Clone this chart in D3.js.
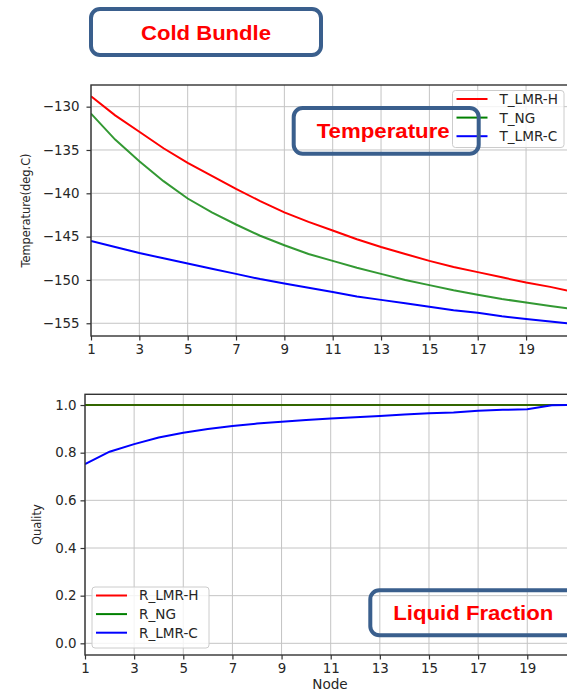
<!DOCTYPE html>
<html>
<head>
<meta charset="utf-8">
<script src="https://d3js.org/d3.v7.min.js"></script>
<style>
  body { margin: 0; background: #fff; }
  .tick text { font-family: "DejaVu Sans", sans-serif; font-size: 13.4px; fill: #262626; }
  .chartaxislabel { font-family: "DejaVu Sans", sans-serif; fill: #262626; }
  .keylabel { font-family: "DejaVu Sans", sans-serif; font-size: 13.6px; fill: #262626; }
  .boxlabel { font-family: "Liberation Sans", Arial, sans-serif; font-weight: bold; fill: #ff0000; }
</style>
</head>
<body>
<div id="chart"></div>
<script>
// node numbers along the bundle
const nodes = d3.range(1, 22);
const xTicks = [1, 3, 5, 7, 9, 11, 13, 15, 17, 19];

// temperature, deg.C
const T_LMR_H = [-128.8, -131.0, -132.9, -134.8, -136.5, -138.0, -139.5, -140.9, -142.2, -143.3, -144.3,
                 -145.3, -146.2, -147.0, -147.8, -148.5, -149.1, -149.7, -150.3, -150.8, -151.4];
const T_NG    = [-130.8, -133.8, -136.3, -138.6, -140.6, -142.2, -143.6, -144.9, -146.0, -147.0, -147.8,
                 -148.6, -149.3, -150.0, -150.6, -151.2, -151.7, -152.2, -152.6, -153.0, -153.4];
const T_LMR_C = [-145.5, -146.2, -146.9, -147.5, -148.1, -148.7, -149.3, -149.9, -150.4, -150.9, -151.4,
                 -151.9, -152.3, -152.7, -153.1, -153.5, -153.8, -154.2, -154.5, -154.8, -155.1];
const tempTicks = [-155, -150, -145, -140, -135, -130];

// quality (liquid fraction)
const R_LMR_H = [1, 1, 1, 1, 1, 1, 1, 1, 1, 1, 1, 1, 1, 1, 1, 1, 1, 1, 1, 1, 1];
const R_NG    = [1, 1, 1, 1, 1, 1, 1, 1, 1, 1, 1, 1, 1, 1, 1, 1, 1, 1, 1, 1, 1];
const R_LMR_C = [0.752, 0.804, 0.836, 0.864, 0.884, 0.899, 0.912, 0.922, 0.930, 0.937, 0.943,
                 0.949, 0.954, 0.960, 0.965, 0.969, 0.976, 0.980, 0.982, 0.999, 1.0];
const qualTicks = [0, 0.2, 0.4, 0.6, 0.8, 1.0];

const tempNames = ['T_LMR-H', 'T_NG', 'T_LMR-C'];
const qualNames = ['R_LMR-H', 'R_NG', 'R_LMR-C'];
colors = ['#ff0000', '#008000', '#0000ff'];

var svg = d3.select('#chart')
    .append('svg')
    .attr('width', 567)
    .attr('height', 694);

function lineChart(svg, id, series, names, yTicks, yFmt, box, yDomain, yTitle, yTitleX, xTitle, legendBox, tickPad){

    var xScale = d3.scaleLinear()
        .domain([1, 21])
        .range([box.left, box.right]);

    var yScale = d3.scaleLinear()
        .domain(yDomain)
        .range([box.bottom, box.top]);

    let g = svg.append('g');

    // grid
    g.selectAll('vgrid')
        .data(xTicks)
        .enter()
        .append('line')
        .attr('x1', d => xScale(d)).attr('x2', d => xScale(d))
        .attr('y1', box.top).attr('y2', box.bottom)
        .attr('stroke', '#c4c4c4')
        .attr('stroke-width', 1);

    g.selectAll('hgrid')
        .data(yTicks)
        .enter()
        .append('line')
        .attr('x1', box.left).attr('x2', box.right)
        .attr('y1', d => yScale(d)).attr('y2', d => yScale(d))
        .attr('stroke', '#c4c4c4')
        .attr('stroke-width', 1);

    g.append('clipPath')
        .attr('id', id)
        .append('rect')
        .attr('x', box.left).attr('y', box.top)
        .attr('width', box.right - box.left)
        .attr('height', box.bottom - box.top);

    var line = d3.line()
        .x((d, i) => xScale(nodes[i]))
        .y(d => yScale(d));

    g.selectAll('series')
        .data(series)
        .enter()
        .append('path')
        .attr('clip-path', 'url(#' + id + ')')
        .attr('d', d => line(d))
        .attr('fill', 'none')
        .attr('stroke', (d, i) => colors[i])
        .attr('stroke-opacity', (d, i) => i == 1 ? 0.8 : 1)
        .attr('stroke-width', 2);

    var xAxis = d3.axisBottom().scale(xScale).tickValues(xTicks).tickSize(4.5).tickPadding(3.5);
    var yAxis = d3.axisLeft().scale(yScale).tickValues(yTicks).tickFormat(d3.format(yFmt)).tickSize(4.5).tickPadding(tickPad);

    g.append('g')
        .attr('class', 'x axis')
        .attr('transform', 'translate(0,' + box.bottom + ')')
        .call(xAxis)
        .call(a => a.select('.domain').remove());

    g.append('g')
        .attr('class', 'y axis')
        .attr('transform', 'translate(' + box.left + ',0)')
        .call(yAxis)
        .call(a => a.select('.domain').remove());

    g.selectAll('.tick line').attr('stroke', '#333').attr('stroke-width', 1.2);

    // spines
    g.append('rect')
        .attr('x', box.left).attr('y', box.top)
        .attr('width', box.right - box.left)
        .attr('height', box.bottom - box.top)
        .attr('fill', 'none')
        .attr('stroke', '#333')
        .attr('stroke-width', 1.4);

    g.append('text')
        .attr('class', 'chartaxislabel')
        .attr('transform', 'translate(' + yTitleX + ',' + ((box.top + box.bottom) / 2) + ') rotate(-90)')
        .style('text-anchor', 'middle')
        .attr('dy', '0.35em')
        .style('font-size', '11.4px')
        .text(yTitle);

    if(xTitle){
        g.append('text')
            .attr('class', 'chartaxislabel')
            .attr('x', 330)
            .attr('y', 689)
            .style('text-anchor', 'middle')
            .style('font-size', '13.6px')
            .text(xTitle);
    }

    // legend
    let lg = g.append('g');
    lg.append('rect')
        .attr('x', legendBox.x).attr('y', legendBox.y)
        .attr('width', legendBox.w).attr('height', legendBox.h)
        .attr('rx', 3)
        .attr('fill', '#fff').attr('fill-opacity', 0.8)
        .attr('stroke', '#cccccc');

    let rows = lg.selectAll('keys')
        .data(names)
        .enter()
        .append('g')
        .attr('transform', (d, i) => 'translate(' + (legendBox.x + 4) + ',' + (legendBox.y + 8.5 + i * 18.6) + ')');
    rows.append('line')
        .attr('x1', 0).attr('x2', 31)
        .attr('stroke', (d, i) => colors[i])
        .attr('stroke-width', 2);
    rows.append('text')
        .attr('class', 'keylabel')
        .attr('x', 43)
        .attr('dy', '0.36em')
        .text(d => d);
}

// rounded callout box, label placed from its left edge tx
function labelBox(svg, x, y, w, h, label, size, tx, len){
    svg.append('rect')
        .attr('x', x).attr('y', y)
        .attr('width', w).attr('height', h)
        .attr('rx', 9)
        .attr('fill', 'none')
        .attr('stroke', '#3a5f8d')
        .attr('stroke-width', 4);
    svg.append('text')
        .attr('class', 'boxlabel')
        .attr('x', tx)
        .attr('y', y + h / 2)
        .attr('dy', '0.36em')
        .style('font-size', size + 'px')
        .attr('textLength', len)
        .attr('lengthAdjust', 'spacingAndGlyphs')
        .text(label);
}

lineChart(svg, 'clipTemp', [T_LMR_H, T_NG, T_LMR_C], tempNames, tempTicks, 'd',
    {left: 91, right: 574.4, top: 85, bottom: 336}, [-156.47, -127.5],
    'Temperature(deg.C)', 26, null, {x: 452.5, y: 90.5, w: 111.5, h: 57}, 7);

lineChart(svg, 'clipQual', [R_LMR_H, R_NG, R_LMR_C], qualNames, qualTicks, '.1f',
    {left: 85, right: 576.4, top: 394.3, bottom: 655}, [-0.049, 1.045],
    'Quality', 37, 'Node', {x: 92, y: 587, w: 117, h: 61}, 4);

labelBox(svg, 91, 9, 230, 46, 'Cold Bundle', 21, 141, 130);
labelBox(svg, 293.7, 108, 185, 45.7, 'Temperature', 20, 316.7, 133);
labelBox(svg, 370.3, 590.3, 240, 45, 'Liquid Fraction', 20.5, 393.3, 160);
</script>
</body>
</html>
